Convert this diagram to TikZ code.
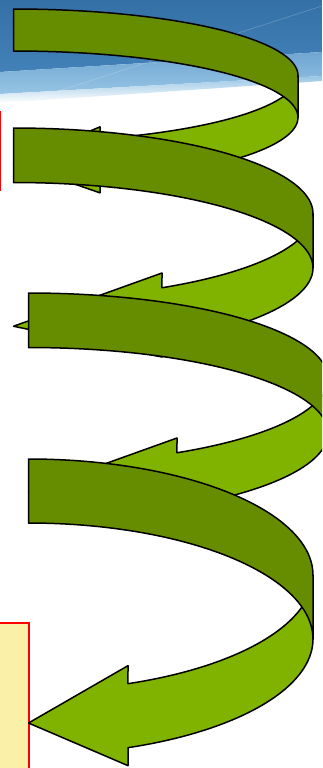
\documentclass[tikz,border=0pt]{standalone}
\definecolor{darkband}{RGB}{102,141,0}
\definecolor{lightband}{RGB}{128,179,0}
\definecolor{bannertop}{RGB}{52,112,166}
\definecolor{bannermid}{RGB}{66,130,184}
\definecolor{bannerlightA}{RGB}{112,166,210}
\definecolor{bannerlightB}{RGB}{150,196,228}
\definecolor{boxyellow}{RGB}{250,240,168}
\tikzset{
  bandline/.style={draw=black, line width=1.5pt, line join=round},
  frontband/.style={bandline, fill=lightband},
  backband/.style={bandline, fill=darkband},
  redframe/.style={draw=red, line width=1.6pt},
}
% #1 left x, #2 top y, #3 horizontal radius, #4 vertical radius,
% #5 band thickness, #6 arrowhead width, #7 arrowhead length
\newcommand\cribbon[7]{%
  \pgfmathsetmacro\craL{#1}%
  \pgfmathsetmacro\craT{#2}%
  \pgfmathsetmacro\craW{#3}%
  \pgfmathsetmacro\craH{#4}%
  \pgfmathsetmacro\craTh{#5}%
  \pgfmathsetmacro\craAw{#6}%
  \pgfmathsetmacro\craAh{#7}%
  \pgfmathsetmacro\craPhi{acos(\craAh/\craW)}%
  \pgfmathsetmacro\craCa{\craT+\craH}%
  \pgfmathsetmacro\craCb{\craT+\craH+\craTh}%
  \pgfmathsetmacro\craR{\craL+\craW}%
  \pgfmathsetmacro\craXb{\craL+\craAh}%
  \pgfmathsetmacro\craYf{\craCa+\craH*sin(\craPhi)}%
  \pgfmathsetmacro\craDh{(\craAw-\craTh)/2}%
  \pgfmathsetmacro\craYtip{\craT+2*\craH+\craTh/2}%
  \path[frontband] (\craR,\craCa)
    -- plot[domain=0:\craPhi,samples=40] ({\craL+\craW*cos(\x)},{\craCa+\craH*sin(\x)})
    -- (\craXb,\craYf-\craDh) -- (\craL,\craYtip)
    -- (\craXb,\craYf+\craTh+\craDh) -- (\craXb,\craYf+\craTh)
    -- plot[domain=\craPhi:0,samples=40] ({\craL+\craW*cos(\x)},{\craCb+\craH*sin(\x)})
    -- cycle;
  \path[backband] (\craL,\craT)
    -- plot[domain=-90:0,samples=50] ({\craL+\craW*cos(\x)},{\craCa+\craH*sin(\x)})
    -- plot[domain=0:-90,samples=50] ({\craL+\craW*cos(\x)},{\craCb+\craH*sin(\x)})
    -- cycle;
}
\begin{document}
\begin{tikzpicture}[x=1pt,y=-1pt]
\useasboundingbox (0,0) rectangle (322,768);
\clip (0,0) rectangle (322,768);
% banner
\shade[top color=bannertop, bottom color=bannermid] (0,0) -- (322,0) -- (322,52) -- (0,72) -- cycle;
\shade[top color=bannerlightA, bottom color=bannerlightB] (0,72) -- (322,52) -- (322,76) -- (0,94) -- cycle;
\shade[top color=bannerlightB, bottom color=white] (0,94) -- (322,76) -- (322,81) -- (0,103) -- cycle;
\draw[white, opacity=0.18, line width=0.8pt] (40,97) -- (322,6);
% side boxes
\draw[redframe, fill=white] (-40,112) rectangle (0.6,190);
\draw[redframe, fill=boxyellow] (-40,623) rectangle (29,800);
% ribbons
\cribbon{13.5}{9}{284.5}{66.5}{42}{66}{86.5}
\cribbon{13.5}{128}{299.5}{85.5}{54.5}{84}{148.5}
\cribbon{28.5}{293}{299.5}{85.5}{54.5}{84}{148.5}
\cribbon{28.5}{459}{284.5}{116}{64}{100}{99.5}
\end{tikzpicture}
\end{document}
